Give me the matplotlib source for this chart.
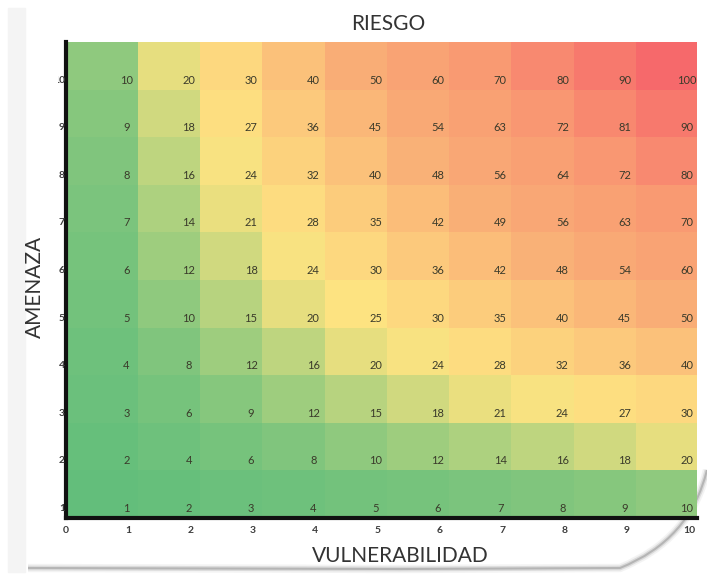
import numpy as np
import matplotlib
matplotlib.use("Agg")
import matplotlib.pyplot as plt
from matplotlib.colors import LinearSegmentedColormap
from matplotlib.patches import PathPatch, Rectangle
from matplotlib.path import Path
from matplotlib.transforms import Bbox, TransformedBbox, blended_transform_factory

plt.rcParams['font.family'] = ['Lato', 'DejaVu Sans']

# data
vulnerabilidad = [1, 2, 3, 4, 5, 6, 7, 8, 9, 10]
amenaza = [1, 2, 3, 4, 5, 6, 7, 8, 9, 10]
x_ticks = [0, 1, 2, 3, 4, 5, 6, 7, 8, 9, 10]
riesgo = np.outer(amenaza, vulnerabilidad)   # rows = amenaza, cols = vulnerabilidad

# colour scale (value -> colour)
scale_vals = [1, 8, 14, 20, 25, 35, 50, 70, 100]
scale_cols = ["#63BE7B", "#80C57D", "#AED17F", "#E6DE7F", "#FDE381",
              "#FCCB7C", "#F9AD76", "#F99A72", "#F6696B"]

lo, hi = scale_vals[0], scale_vals[-1]
cmap = LinearSegmentedColormap.from_list(
    "riesgo", [((v - lo) / (hi - lo), c) for v, c in zip(scale_vals, scale_cols)])

W, H = 707, 579
fig = plt.figure(figsize=(W / 100, H / 100), dpi=100)
fig.patch.set_facecolor("white")

def px(x, y):
    return x / W, 1 - y / H

# card shadow / frame
fig.patches.append(Rectangle(px(8, 572), 17 / W, 564 / H, transform=fig.transFigure,
                             color="#f4f4f4", zorder=-2))
shadow = Path([px(28, 568), px(400, 569), px(620, 568), px(690, 540), px(707, 470)],
              [Path.MOVETO, Path.LINETO, Path.LINETO, Path.CURVE3, Path.CURVE3])
for lw, a in [(6, 0.08), (3.5, 0.18), (1.5, 0.35)]:
    fig.patches.append(PathPatch(shadow, transform=fig.transFigure, fill=False,
                                 edgecolor="#707070", lw=lw, alpha=a, zorder=-2))

ax = fig.add_axes([66 / W, 1 - 518 / H, 631 / W, 476 / H])

# cells sit a little to the right of the tick positions
x_edges = np.array([0] + [v + 0.15 for v in vulnerabilidad[:-1]] + [10.13])
y_edges = np.arange(0, len(amenaza) + 1)
ax.pcolormesh(x_edges, y_edges, riesgo, cmap=cmap, vmin=lo, vmax=hi, shading="flat")

for j, a in enumerate(amenaza):
    for i, v in enumerate(vulnerabilidad):
        ax.text(v - 0.03, a - 0.8, str(riesgo[j, i]), ha="center", va="center",
                fontsize=8, color="#3a3a2a")

ax.set_xlim(0, 10.13)
ax.set_ylim(0, 10)
ax.set_xticks(x_ticks)
ax.set_xticklabels([str(t) for t in x_ticks], fontsize=7.5, color="#3c3c3c", fontweight="bold")
ax.set_yticks([])
ax.tick_params(length=0)
ax.tick_params(axis="x", pad=6)

# y labels are cut by the chart area in the original, only a sliver shows
clip = TransformedBbox(Bbox([[58 / W, 0], [65 / W, 1]]), fig.transFigure)
trans = blended_transform_factory(fig.transFigure, ax.transData)
for a in amenaza:
    t = ax.text(65 / W, a - 0.8, str(a), transform=trans, ha="right", va="center",
                fontsize=7.5, color="#3c3c3c", fontweight="bold")
    t.set_clip_box(clip)
    t.set_clip_on(True)

for s in ["top", "right"]:
    ax.spines[s].set_visible(False)
for s in ["left", "bottom"]:
    ax.spines[s].set_linewidth(3)
    ax.spines[s].set_color("#111111")

ax.set_title("RIESGO", fontsize=15, color="#333333", pad=9, x=0.51)
ax.set_xlabel("VULNERABILIDAD", fontsize=15, color="#333333")
ax.xaxis.set_label_coords(0.53, -0.058)
ax.set_ylabel("AMENAZA", fontsize=15, color="#333333")
ax.yaxis.set_label_coords(-0.034, 0.485)

fig.savefig("out.png", dpi=100, facecolor="white")
